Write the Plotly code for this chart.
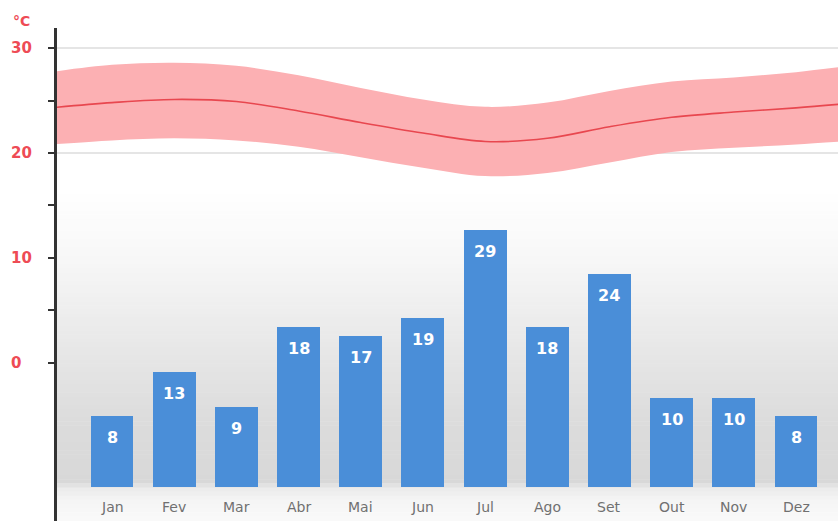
import plotly.graph_objects as go

months = ["Jan", "Fev", "Mar", "Abr", "Mai", "Jun", "Jul", "Ago", "Set", "Out", "Nov", "Dez"]
precip = [8, 13, 9, 18, 17, 19, 29, 18, 24, 10, 10, 8]
temp_mean = [24.8, 25.1, 24.9, 24.0, 22.9, 21.9, 21.1, 21.4, 22.5, 23.4, 23.9, 24.3]
temp_max = [28.4, 28.6, 28.3, 27.4, 26.2, 25.1, 24.4, 24.8, 25.9, 26.8, 27.2, 27.7]
temp_min = [21.2, 21.4, 21.2, 20.6, 19.6, 18.6, 17.8, 18.1, 19.1, 20.1, 20.5, 20.8]
temp_ticks = [0, 5, 10, 15, 20, 25, 30]
temp_labels = [0, 10, 20, 30]
grid_values = [20, 30]
unit = "°C"

n = len(months)
xi = list(range(n))
# wrap around the year so the curves run to the plot edges
xw = [-1] + xi + [n]
def wrap(v):
    return [v[-1]] + list(v) + [v[0]]

W, H = 838, 521
H0, H1 = 28, 521  # plot area top / bottom in page pixels
L = 57
PW = W - L
RED = "#ee4b55"

fig = go.Figure()

# background gradient (styling)
stops = [(190, 255), (260, 247), (340, 233), (420, 220), (482, 216), (490, 236), (500, 244), (521, 250)]
steps = 80
for k in range(steps):
    ya = 190 + (521 - 190) * k / steps
    yb = 190 + (521 - 190) * (k + 1) / steps
    ym = (ya + yb) / 2
    g = 255
    for j in range(len(stops) - 1):
        if stops[j][0] <= ym <= stops[j + 1][0]:
            t = (ym - stops[j][0]) / (stops[j + 1][0] - stops[j][0])
            g = stops[j][1] + t * (stops[j + 1][1] - stops[j][1])
            break
    g = int(round(g))
    fig.add_shape(type="rect", xref="paper", yref="paper", x0=0, x1=1,
                  y0=(H1 - yb) / (H1 - H0), y1=(H1 - ya) / (H1 - H0) + 0.001,
                  fillcolor=f"rgb({g},{g},{g})", line_width=0, layer="below")

for gv in grid_values:
    fig.add_shape(type="line", xref="paper", x0=0, x1=1, yref="y", y0=gv, y1=gv,
                  line=dict(color="#dcdcdc", width=1.5), layer="below")

# temperature band
fig.add_trace(go.Scatter(x=xw, y=wrap(temp_max), mode="lines", line=dict(width=0, shape="spline"),
                         hoverinfo="skip", showlegend=False, yaxis="y"))
fig.add_trace(go.Scatter(x=xw, y=wrap(temp_min), mode="lines", line=dict(width=0, shape="spline"),
                         fill="tonexty", fillcolor="#fcb0b3", hoverinfo="skip", showlegend=False, yaxis="y"))
fig.add_trace(go.Scatter(x=xw, y=wrap(temp_mean), mode="lines", line=dict(width=1.6, color="#e8474f", shape="spline"),
                         showlegend=False, yaxis="y"))

# precipitation bars
fig.add_trace(go.Bar(x=xi, y=precip, yaxis="y2", width=0.69,
                     marker=dict(color="#4a8ed8", line=dict(width=0)),
                     showlegend=False))

for i, v in enumerate(precip):
    fig.add_annotation(x=i, y=v, xref="x", yref="y2", text=str(v), showarrow=False,
                       yanchor="top", yshift=-10,
                       font=dict(color="white", size=16, family="DejaVu Sans", weight="bold"))

# month labels
for i, m in enumerate(months):
    fig.add_annotation(x=i, y=(H1 - 507) / (H1 - H0), xref="x", yref="paper", text=m,
                       showarrow=False, font=dict(size=14, color="#707070", family="DejaVu Sans"),
                       xanchor="center", yanchor="middle")

# left-aligned temperature tick labels
for tv in temp_labels:
    fig.add_annotation(x=-(L - 9) / PW, y=tv, xref="paper", yref="y", text=str(tv),
                       showarrow=False, xanchor="left", yanchor="middle",
                       font=dict(size=15, color=RED, family="DejaVu Sans", weight="bold"))

fig.add_annotation(x=-(L - 11) / PW, y=(H1 - 21) / (H1 - H0), xref="paper", yref="paper",
                   text=unit, showarrow=False, xanchor="left", yanchor="middle",
                   font=dict(size=14, color=RED, family="DejaVu Sans", weight="bold"))

fig.update_layout(
    width=W, height=H,
    margin=dict(l=L, r=0, t=H0, b=H - H1),
    paper_bgcolor="white", plot_bgcolor="white",
    bargap=0,
    xaxis=dict(range=[-0.885, 11.675], showticklabels=False, showgrid=False, zeroline=False,
               showline=False, ticks=""),
    yaxis=dict(range=[-15.05, 31.905], tickvals=temp_ticks, showticklabels=False,
               showgrid=False, zeroline=False, showline=True, linecolor="#333333", linewidth=3,
               ticks="outside", ticklen=6, tickwidth=2, tickcolor="#333333"),
    yaxis2=dict(range=[-3.833, 51.75], overlaying="y", side="right", visible=False,
                showgrid=False, zeroline=False),
)

fig.write_html("out.html", config={"displayModeBar": False},
               post_script="document.body.style.margin='0';document.body.style.overflow='hidden';")
